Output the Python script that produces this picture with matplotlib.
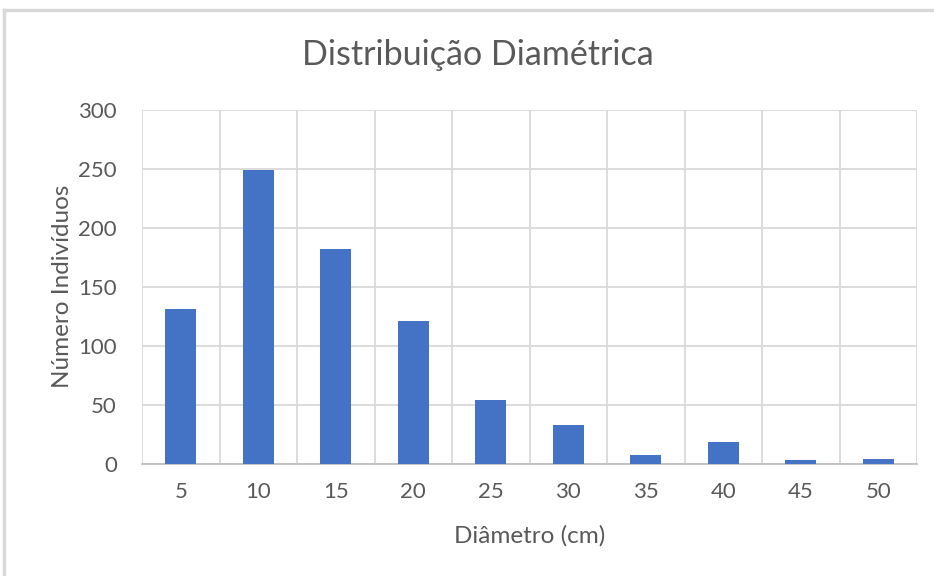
import numpy as np
import matplotlib
matplotlib.use("Agg")
import matplotlib.pyplot as plt
from matplotlib.lines import Line2D

# Diametric distribution (class centre in cm -> number of individuals)
diametros = ["5", "10", "15", "20", "25", "30", "35", "40", "45", "50"]
individuos = [131, 249, 182, 121, 54, 33, 7, 18, 3, 4]

BAR = "#4472C4"
GRID = "#d9d9d9"
TXT = "#595959"

plt.rcParams["font.family"] = ["Lato", "DejaVu Sans"]

fig = plt.figure(figsize=(9.34, 5.76), dpi=100)
ax = fig.add_axes([142 / 934, 1 - 463.5 / 576, (917 - 142) / 934, (463.5 - 110) / 576])

x = np.arange(len(diametros))
ax.bar(x, individuos, width=0.4, color=BAR, zorder=3)

ax.set_xlim(-0.5, len(diametros) - 0.5)
ax.set_ylim(0, 300)
ax.set_yticks(np.arange(0, 301, 50))
ax.set_xticks(x)
ax.set_xticklabels(diametros)

# horizontal + category-boundary gridlines, Excel style
ax.yaxis.grid(True, color=GRID, lw=1.3, zorder=0)
for b in np.arange(-0.5, len(diametros), 1.0):
    ax.axvline(b, color=GRID, lw=1.3, zorder=0)
for s in ["top", "right", "left"]:
    ax.spines[s].set_visible(False)
ax.spines["bottom"].set_color("#bfbfbf")
ax.spines["bottom"].set_linewidth(1.3)
ax.tick_params(length=0, colors=TXT, labelsize=16)
ax.tick_params(axis="x", pad=13)
ax.tick_params(axis="y", pad=18)

ax.set_xlabel("Diâmetro (cm)", color=TXT, fontsize=17.5, labelpad=17)
ax.set_ylabel("Número Indivíduos", color=TXT, fontsize=17.5, labelpad=4)
fig.text(0.512, 1 - 55 / 576, "Distribuição Diamétrica", ha="center", va="center",
         color=TXT, fontsize=24.5)

# chart frame (cropped on right/bottom in the original)
fig.add_artist(Line2D([4 / 934, 4 / 934], [0, 1 - 10 / 576], color=GRID, lw=2.5))
fig.add_artist(Line2D([4 / 934, 1], [1 - 10 / 576, 1 - 10 / 576], color=GRID, lw=2.5))

fig.savefig("out.png", dpi=100)
